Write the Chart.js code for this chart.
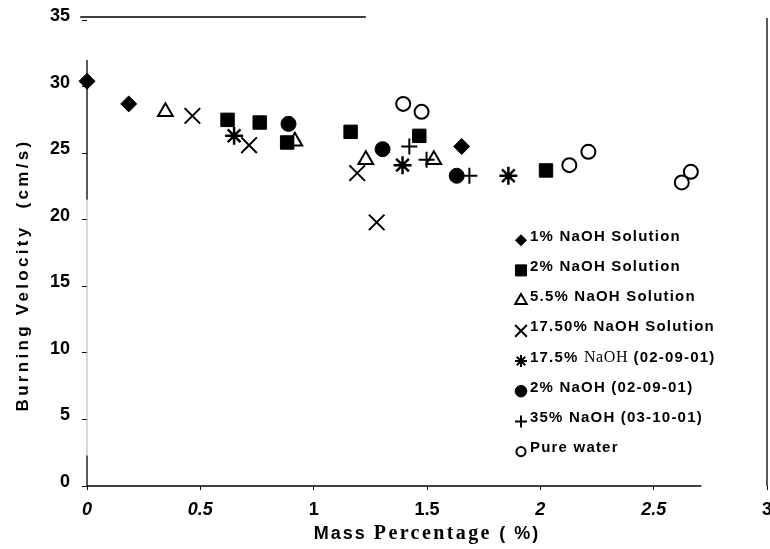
<!DOCTYPE html>
<html><head><meta charset="utf-8">
<script src="https://cdn.jsdelivr.net/npm/chart.js@4/dist/chart.umd.min.js"></script>
<style>html,body{margin:0;padding:0;background:#fff;} canvas{display:block;}</style>
</head><body>
<canvas id="c" width="770" height="549"></canvas>
<script>
// ---------- data ----------
const seriesNames = ["1% NaOH Solution","2% NaOH Solution","5.5% NaOH Solution","17.50% NaOH Solution","17.5% NaOH (02-09-01)","2% NaOH (02-09-01)","35% NaOH (03-10-01)","Pure water"];
const naoh1_x = [0, 0.184, 1.653];
const naoh1_y = [30.4, 28.7, 25.5];
const naoh2_x = [0.62, 0.762, 0.883, 1.163, 1.466, 2.025];
const naoh2_y = [27.5, 27.3, 25.8, 26.6, 26.3, 23.7];
const naoh55_x = [0.346, 0.917, 1.23, 1.53];
const naoh55_y = [28.1, 25.9, 24.5, 24.5];
const naoh175_x = [0.465, 0.715, 1.192, 1.278];
const naoh175_y = [27.8, 25.6, 23.5, 19.8];
const naoh175b_x = [0.649, 1.392, 1.859];
const naoh175b_y = [26.3, 24.1, 23.3];
const naoh2b_x = [0.889, 1.304, 1.631];
const naoh2b_y = [27.2, 25.3, 23.3];
const naoh35_x = [1.422, 1.498, 1.687];
const naoh35_y = [25.5, 24.5, 23.3];
const water_x = [1.395, 1.476, 2.128, 2.212, 2.624, 2.664];
const water_y = [28.7, 28.1, 24.1, 25.1, 22.8, 23.6];
const xTickLabels = ["0", "0.5", "1", "1.5", "2", "2.5", "3"];
const xTickItalic = [true, true, false, false, true, true, false];
const xTitleParts = ["Mass ", "Percentage ", "( %)"];
const yTitle = "Burning Velocity  (cm/s)";

// ---------- styling ----------
const seriesX = [naoh1_x, naoh2_x, naoh55_x, naoh175_x, naoh175b_x, naoh2b_x, naoh35_x, water_x];
const seriesY = [naoh1_y, naoh2_y, naoh55_y, naoh175_y, naoh175b_y, naoh2b_y, naoh35_y, water_y];
const markers = [
  {style:'rectRot', r:8, fill:true, lr:5.5, bw:1},
  {style:'rect', r:9.5, fill:true, lr:7.8, bw:1},
  {style:'triangle', r:8.5, fill:false, lr:6.7, bw:2},
  {style:'crossRot', r:11, fill:false, lr:8.3, bw:2},
  {style:'star', r:9, fill:false, lr:6, bw:2.5},
  {style:'circle', r:7.5, fill:true, lr:5.8, bw:1},
  {style:'cross', r:8, fill:false, lr:6, bw:2},
  {style:'circle', r:7, fill:false, lr:4.6, bw:2}
];
const SANS = '"Liberation Sans", Arial, sans-serif';
const SERIF = '"Liberation Serif", "Times New Roman", serif';

const datasets = seriesNames.map((name, i) => ({
  label: name,
  data: seriesX[i].map((v, j) => ({x: v, y: seriesY[i][j]})),
  pointStyle: markers[i].style,
  pointRadius: markers[i].r,
  pointHoverRadius: markers[i].r,
  backgroundColor: markers[i].fill ? '#000' : 'rgba(0,0,0,0)',
  borderColor: '#000',
  pointBorderWidth: markers[i].bw,
  borderWidth: markers[i].bw,
  clip: false
}));

function drawSpaced(ctx, text, x, y, font, spacing) {
  ctx.font = font;
  try { ctx.letterSpacing = spacing + 'px'; } catch (e) {}
  ctx.fillText(text, x, y);
  const w = ctx.measureText(text).width;
  try { ctx.letterSpacing = '0px'; } catch (e) {}
  return w;
}
function measureSpaced(ctx, text, font, spacing) {
  ctx.font = font;
  try { ctx.letterSpacing = spacing + 'px'; } catch (e) {}
  const w = ctx.measureText(text).width;
  try { ctx.letterSpacing = '0px'; } catch (e) {}
  return w;
}

const decor = {
  id: 'decor',
  beforeDatasetsDraw(chart) {
    const {ctx, chartArea: a, scales: {x, y}} = chart;
    ctx.save();
    ctx.lineWidth = 1.3;
    const line = (x1, y1, x2, y2, col) => {
      ctx.strokeStyle = col || '#000';
      ctx.beginPath(); ctx.moveTo(x1, y1); ctx.lineTo(x2, y2); ctx.stroke();
    };
    // partial top frame line
    line(x.getPixelForValue(-0.03), a.top - 3, x.getPixelForValue(1.23), a.top - 3);
    // right frame line
    line(a.right, a.top - 2, a.right, a.bottom);
    // bottom axis
    line(a.left, a.bottom, x.getPixelForValue(2.71), a.bottom);
    // left axis (scanned: solid top, faint middle, solid bottom)
    const lx = a.left;
    line(lx, y.getPixelForValue(32), lx, y.getPixelForValue(21.5));
    ctx.lineWidth = 1;
    line(lx, y.getPixelForValue(21.5), lx, y.getPixelForValue(2.3), '#b0b0b0');
    ctx.lineWidth = 1.3;
    line(lx, y.getPixelForValue(2.3), lx, a.bottom);
    ctx.restore();
  },
  afterDraw(chart) {
    const {ctx, chartArea: a} = chart;
    ctx.save();
    ctx.fillStyle = '#000';
    // ---- y title ----
    ctx.save();
    ctx.translate(23.5, 275);
    ctx.rotate(-Math.PI / 2);
    ctx.textAlign = 'left';
    ctx.textBaseline = 'middle';
    const yf = 'bold 17px ' + SANS;
    const yw = measureSpaced(ctx, yTitle, yf, 3.3);
    drawSpaced(ctx, yTitle, -yw / 2, 0, yf, 3.3);
    ctx.restore();
    // ---- x title ----
    ctx.textAlign = 'left';
    ctx.textBaseline = 'alphabetic';
    const xf = ['bold 18px ' + SANS, 'bold 20px ' + SERIF, 'bold 18px ' + SANS];
    const xs = [2, 2.4, 2];
    let tot = 0;
    xTitleParts.forEach((p, i) => { tot += measureSpaced(ctx, p, xf[i], xs[i]); });
    let cx = (a.left + a.right) / 2 - tot / 2;
    xTitleParts.forEach((p, i) => { cx += drawSpaced(ctx, p, cx, 539, xf[i], xs[i]); });
    // ---- legend inside plot ----
    const mX = 521, tX = 530, row0 = 236.7, step = 30.2;
    const lf = 'bold 15px ' + SANS;
    const sf = '16px ' + SERIF;
    chart.data.datasets.forEach((ds, i) => {
      const ty = row0 + step * i;
      const m = markers[i];
      ctx.save();
      ctx.fillStyle = m.fill ? '#000' : 'rgba(0,0,0,0)';
      ctx.strokeStyle = '#000';
      ctx.lineWidth = m.fill ? 1 : 2;
      Chart.helpers.drawPoint(ctx, {pointStyle: m.style, radius: m.lr, rotation: 0, borderWidth: ctx.lineWidth}, mX, ty + 3.5);
      ctx.restore();
      ctx.fillStyle = '#000';
      ctx.textBaseline = 'middle';
      ctx.textAlign = 'left';
      const label = ds.label;
      if (i === 4) {
        const parts = label.split('NaOH');
        let px = tX;
        px += drawSpaced(ctx, parts[0], px, ty, lf, 1.2);
        px += drawSpaced(ctx, 'NaOH', px, ty, sf, 0.6);
        drawSpaced(ctx, parts[1], px, ty, lf, 1.2);
      } else {
        drawSpaced(ctx, label, tX, ty, lf, 1.2);
      }
    });
    ctx.restore();
  }
};

Chart.defaults.color = '#000';
new Chart(document.getElementById('c'), {
  type: 'scatter',
  data: { datasets },
  options: {
    responsive: false,
    animation: false,
    events: [],
    layout: { autoPadding: false, padding: { left: 0, right: 3, top: 20, bottom: 0 } },
    plugins: { legend: { display: false }, tooltip: { enabled: false } },
    scales: {
      x: {
        type: 'linear', min: 0, max: 3,
        border: { display: false },
        grid: { display: true, drawOnChartArea: false, drawTicks: true, tickLength: 4, color: '#000', lineWidth: 1 },
        ticks: {
          stepSize: 0.5, padding: 9, maxRotation: 0, autoSkip: false,
          callback: (v, idx) => xTickLabels[idx],
          font: (c) => ({ family: SANS, size: 18, weight: 'bold', style: xTickItalic[c.index] ? 'italic' : 'normal' })
        },
        afterFit: (s) => { s.height = 63; s.paddingLeft = 0; s.paddingRight = 0; }
      },
      y: {
        type: 'linear', min: 0, max: 35,
        border: { display: false },
        grid: { display: true, drawOnChartArea: false, drawTicks: true, tickLength: 5, color: '#000', lineWidth: 1 },
        ticks: { stepSize: 5, padding: 12, labelOffset: -4, font: { family: SANS, size: 18, weight: 'bold' } },
        afterFit: (s) => { s.width = 87; s.paddingTop = 0; s.paddingBottom = 0; }
      }
    }
  },
  plugins: [decor]
});
</script>
</body></html>
